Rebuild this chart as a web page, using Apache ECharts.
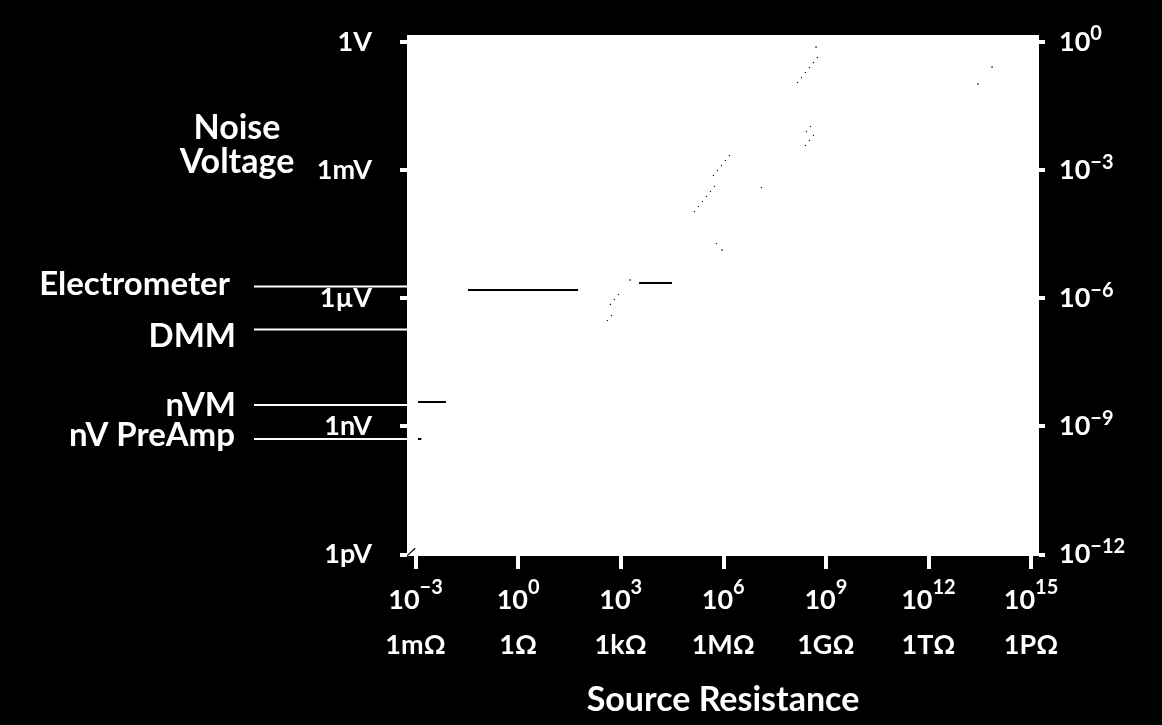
<!DOCTYPE html>
<html>
<head>
<meta charset="utf-8">
<script src="https://cdn.jsdelivr.net/npm/echarts@6/dist/echarts.min.js"></script>
<style>
html,body{margin:0;padding:0;background:#000;}
#c{width:1162px;height:725px;}
</style>
</head>
<body>
<div id="c"></div>
<script>
// All values are log10 of ohms (R) or log10 of volts (V)
const xTicks = [-3, 0, 3, 6, 9, 12, 15];
const xExpLabels = ['\u22123', '0', '3', '6', '9', '12', '15'];
const xUnitLabels = ['1m\u03A9', '1\u03A9', '1k\u03A9', '1M\u03A9', '1G\u03A9', '1T\u03A9', '1P\u03A9'];
const yTicks = [0, -3, -6, -9, -12];
const yLeftLabels = ['1V', '1mV', '1\u00B5V', '1nV', '1pV'];
const yRightExp = ['0', '\u22123', '\u22126', '\u22129', '\u221212'];

// instrument noise floors (left annotations)
const instrumentNames = ['Electrometer', 'DMM', 'nVM', 'nV PreAmp'];
const instrumentLogV = [-5.726, -6.733, -8.501, -9.297];

// solid horizontal floor segments
const floorR0 = [-1.464, 3.537, -2.927, -2.93];
const floorR1 = [1.753, 4.502, -2.108, -2.83];
const floorV = [-5.808, -5.644, -8.438, -9.30];

// dotted slope segments
const dotR0 = [8.158, 8.421, 8.392, 5.146, 5.701, 7.105, 5.789, 2.601, 2.689];
const dotV0 = [-0.960, -2.108, -2.436, -3.981, -3.138, -3.419, -4.731, -6.534, -6.159];
const dotR1 = [8.860, 8.655, 8.743, 5.848, 6.286, 7.222, 5.906, 2.835, 3.040];
const dotV1 = [-0.258, -1.874, -2.084, -3.279, -2.553, -3.302, -4.614, -6.300, -5.808];

// isolated dots
const isoR = [8.714, 5.964, 3.274, 13.452, 13.862];
const isoV = [-0.117, -4.871, -5.574, -0.984, -0.585];

// corner diagonal
const cornerR = [-3.24, -3.01];
const cornerV = [-12.03, -11.86];

const X_MIN = -3.249, X_MAX = 15.234, Y_MIN = -12.04, Y_MAX = 0.164;
const FONT = 'Lato, "Open Sans", sans-serif';
const W = 700;

const chart = echarts.init(document.getElementById('c'), null, {renderer: 'canvas'});

const floorData = floorV.map((v, i) => ({coords: [[floorR0[i], v], [floorR1[i], v]]}));
const dotData = dotR0.map((r, i) => ({coords: [[r, dotV0[i]], [dotR1[i], dotV1[i]]]}));
const cornerData = [{coords: cornerR.map((r, i) => [r, cornerV[i]])}];

const option = {
  backgroundColor: '#000',
  animation: false,
  grid: {left: 407, top: 35, width: 632, height: 521, show: true, backgroundColor: '#fff', borderWidth: 0},
  xAxis: {
    type: 'value', min: X_MIN, max: X_MAX, position: 'bottom',
    name: 'Source Resistance', nameLocation: 'middle', nameGap: 127,
    nameTextStyle: {color: '#fff', fontFamily: FONT, fontWeight: W, fontSize: 34},
    axisLine: {show: false, onZero: false}, splitLine: {show: false},
    axisTick: {show: true, customValues: xTicks, length: 13, lineStyle: {color: '#fff', width: 4}},
    axisLabel: {
      customValues: xTicks, margin: 22, color: '#fff',
      formatter: (v) => {
        const i = xTicks.indexOf(Math.round(v));
        return '{b|10}{s|' + xExpLabels[i] + '}\n{u|' + xUnitLabels[i] + '}';
      },
      rich: {
        b: {fontFamily: FONT, fontWeight: W, fontSize: 27, lineHeight: 45, color: '#fff'},
        s: {fontFamily: FONT, fontWeight: W, fontSize: 20, lineHeight: 26, verticalAlign: 'top', color: '#fff'},
        u: {fontFamily: FONT, fontWeight: W, fontSize: 27, lineHeight: 45, color: '#fff'}
      }
    }
  },
  yAxis: [
    {
      type: 'value', min: Y_MIN, max: Y_MAX, position: 'left',
      axisLine: {show: false, onZero: false}, splitLine: {show: false},
      axisTick: {show: true, customValues: yTicks, length: 7, lineStyle: {color: '#fff', width: 4}},
      axisLabel: {
        customValues: yTicks, margin: 35, color: '#fff', fontFamily: FONT, fontWeight: W, fontSize: 27,
        formatter: (v) => yLeftLabels[yTicks.indexOf(Math.round(v))]
      }
    },
    {
      type: 'value', min: Y_MIN, max: Y_MAX, position: 'right',
      axisLine: {show: false, onZero: false}, splitLine: {show: false},
      axisTick: {show: true, customValues: yTicks, length: 6, lineStyle: {color: '#fff', width: 4}},
      axisLabel: {
        customValues: yTicks, margin: 20, color: '#fff',
        formatter: (v) => '{b|10}{s|' + yRightExp[yTicks.indexOf(Math.round(v))] + '}',
        rich: {
          b: {fontFamily: FONT, fontWeight: W, fontSize: 27, lineHeight: 36, color: '#fff'},
          s: {fontFamily: FONT, fontWeight: W, fontSize: 20, lineHeight: 18, verticalAlign: 'top', color: '#fff'}
        }
      }
    }
  ],
  series: [
    {type: 'lines', coordinateSystem: 'cartesian2d', data: floorData,
      lineStyle: {color: '#000', width: 2, opacity: 1}, silent: true},
    {type: 'lines', coordinateSystem: 'cartesian2d', data: dotData,
      lineStyle: {color: '#000', width: 1.2, opacity: 1, type: [1.2, 5.2]}, silent: true},
    {type: 'scatter', data: isoR.map((r, i) => [r, isoV[i]]),
      symbol: 'rect', symbolSize: 1.6, itemStyle: {color: '#000'}, silent: true},
    {type: 'lines', coordinateSystem: 'cartesian2d', data: cornerData,
      lineStyle: {color: '#000', width: 1.2, opacity: 1}, silent: true}
  ]
};

chart.setOption(option);

// left annotations tied to voltage levels
const gridLeftPx = chart.convertToPixel({xAxisIndex: 0}, X_MIN);
const labelNudge = [-2, 6.5, 0, -3.5];
const labelRight = [230, 236, 236, 235];
const graphics = [];
instrumentNames.forEach((name, i) => {
  const py = chart.convertToPixel({yAxisIndex: 0}, instrumentLogV[i]);
  graphics.push({type: 'line', shape: {x1: 254, y1: py, x2: gridLeftPx, y2: py},
    style: {stroke: '#fff', lineWidth: 2}, silent: true});
  graphics.push({type: 'text', x: labelRight[i], y: py + labelNudge[i],
    style: {text: name, fill: '#fff', font: W + ' 33px ' + FONT, align: 'right', verticalAlign: 'middle'}, silent: true});
});
graphics.push({type: 'text', x: 237, y: 145,
  style: {text: 'Noise\nVoltage', fill: '#fff', font: W + ' 34px ' + FONT, align: 'center', verticalAlign: 'middle', lineHeight: 34},
  silent: true});
chart.setOption({graphic: graphics});
</script>
</body>
</html>
